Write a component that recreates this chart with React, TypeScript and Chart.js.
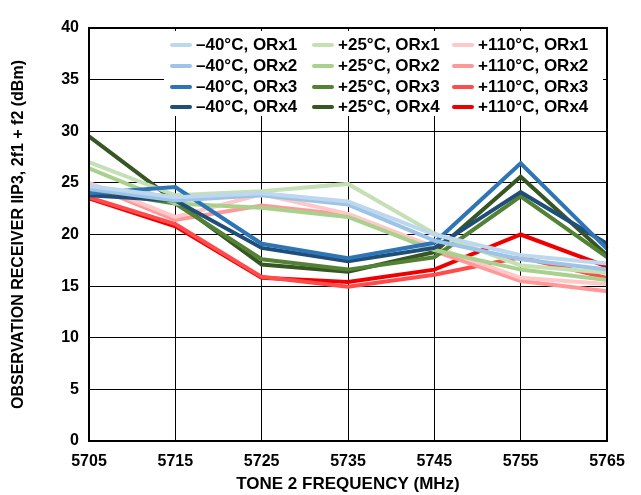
import React, { useEffect, useRef } from "react";
import { Chart, registerables } from "chart.js";

Chart.register(...registerables);

const frequencies = ["5705", "5715", "5725", "5735", "5745", "5755", "5765"];

const m40Orx1 = [24.7, 23.6, 24.0, 23.2, 20.0, 18.0, 17.2];
const m40Orx2 = [24.4, 23.3, 23.8, 22.9, 19.4, 17.6, 16.6];
const m40Orx3 = [24.0, 24.6, 19.1, 17.7, 19.2, 26.9, 18.6];
const m40Orx4 = [23.8, 23.3, 18.7, 17.4, 18.7, 24.1, 19.1];
const p25Orx1 = [27.0, 23.8, 24.2, 24.9, 20.1, 17.0, 16.3];
const p25Orx2 = [26.4, 23.0, 22.6, 21.7, 18.5, 16.6, 15.6];
const p25Orx3 = [24.3, 23.0, 17.6, 16.6, 17.8, 23.7, 17.8];
const p25Orx4 = [29.5, 23.2, 17.1, 16.4, 18.3, 25.6, 18.0];
const p110Orx1 = [25.0, 21.7, 23.9, 22.0, 18.8, 15.8, 15.2];
const p110Orx2 = [24.8, 21.4, 22.8, 21.9, 18.4, 15.5, 14.5];
const p110Orx3 = [23.6, 21.0, 15.9, 14.95, 16.1, 17.8, 15.8];
const p110Orx4 = [23.5, 20.8, 15.8, 15.4, 16.6, 20.0, 16.9];

const yTicks = [0, 5, 10, 15, 20, 25, 30, 35, 40];

const seriesNames = [
  ["–40°C, ORx1", "–40°C, ORx2", "–40°C, ORx3", "–40°C, ORx4"],
  ["+25°C, ORx1", "+25°C, ORx2", "+25°C, ORx3", "+25°C, ORx4"],
  ["+110°C, ORx1", "+110°C, ORx2", "+110°C, ORx3", "+110°C, ORx4"],
];
const seriesColors = [
  ["#bdd7ee", "#9dc3e6", "#2e75b6", "#1f4e79"],
  ["#c5e0b4", "#a9d18e", "#548235", "#375623"],
  ["#ffc7c7", "#ff9999", "#ff4b4b", "#ee0000"],
];
const seriesValues = [
  [m40Orx1, m40Orx2, m40Orx3, m40Orx4],
  [p25Orx1, p25Orx2, p25Orx3, p25Orx4],
  [p110Orx1, p110Orx2, p110Orx3, p110Orx4],
];

const FONT = '"Liberation Sans", Arial, Helvetica, sans-serif';

const framePlugin = {
  id: "frame",
  afterDraw(chart: any) {
    const { ctx, chartArea: a } = chart;
    ctx.save();
    ctx.strokeStyle = "#000";
    ctx.lineWidth = 2;
    ctx.strokeRect(a.left, a.top, a.right - a.left, a.bottom - a.top);
    ctx.restore();
  },
};

export default function App() {
  const ref = useRef<HTMLCanvasElement | null>(null);

  useEffect(() => {
    if (!ref.current) return;
    const datasets: any[] = [];
    for (let g = 0; g < 3; g++) {
      for (let k = 0; k < 4; k++) {
        datasets.push({
          label: seriesNames[g][k],
          data: seriesValues[g][k],
          borderColor: seriesColors[g][k],
          backgroundColor: seriesColors[g][k],
          borderWidth: 4,
          pointRadius: 0,
          tension: 0,
          fill: false,
        });
      }
    }
    const chart = new Chart(ref.current, {
      type: "line",
      data: { labels: frequencies, datasets },
      plugins: [framePlugin],
      options: {
        animation: false,
        responsive: false,
        devicePixelRatio: 1,
        layout: { padding: { left: 0, right: 34, top: 28, bottom: 0 } },
        plugins: { legend: { display: false }, tooltip: { enabled: false } },
        scales: {
          x: {
            type: "category",
            offset: false,
            afterFit: (s: any) => {
              s.height = 54;
            },
            grid: { color: "#000", lineWidth: 1, drawTicks: false },
            border: { color: "#000", width: 2 },
            ticks: {
              autoSkip: false,
              maxRotation: 0,
              padding: 11,
              color: "#000",
              font: { family: FONT, size: 16, weight: "bold" },
            },
            title: {
              display: true,
              text: "TONE 2 FREQUENCY (MHz)",
              color: "#000",
              padding: { top: 0, bottom: 0 },
              font: { family: FONT, size: 17, weight: "bold" },
            },
          },
          y: {
            min: 0,
            max: 40,
            afterFit: (s: any) => {
              s.width = 89;
            },
            afterBuildTicks: (s: any) => {
              s.ticks = yTicks.map((v) => ({ value: v }));
            },
            grid: { color: "#000", lineWidth: 1, drawTicks: false },
            border: { color: "#000", width: 2 },
            ticks: {
              padding: 10,
              color: "#000",
              font: { family: FONT, size: 16, weight: "bold" },
            },
            title: {
              display: true,
              text: "OBSERVATION RECEIVER IIP3, 2f1 + f2 (dBm)",
              color: "#000",
              padding: { top: 9, bottom: 0 },
              font: { family: FONT, size: 16, weight: "bold" },
            },
          },
        },
      },
    });
    return () => chart.destroy();
  }, []);

  const colLeft = [170, 312, 452];
  const rowTop = [45, 65.5, 86.5, 107];

  return (
    <div style={{ position: "fixed", left: 0, top: 0, width: 641, height: 495, background: "#fff" }}>
      <canvas ref={ref} width={641} height={495} style={{ display: "block" }} />
      <div
        style={{
          position: "absolute",
          left: 164,
          top: 31,
          width: 439,
          height: 85,
          background: "#fff",
        }}
      />
      {seriesNames.map((col, g) =>
        col.map((name, k) => (
          <div
            key={name}
            style={{
              position: "absolute",
              left: colLeft[g],
              top: rowTop[k] - 11,
              height: 22,
              display: "flex",
              alignItems: "center",
              whiteSpace: "nowrap",
              fontFamily: FONT,
              fontWeight: "bold",
              fontSize: 17,
              color: "#000",
            }}
          >
            <span
              style={{
                display: "inline-block",
                width: 22,
                height: 4,
                borderRadius: 2,
                background: seriesColors[g][k],
                marginRight: 4,
              }}
            />
            <span>{name}</span>
          </div>
        ))
      )}
    </div>
  );
}
